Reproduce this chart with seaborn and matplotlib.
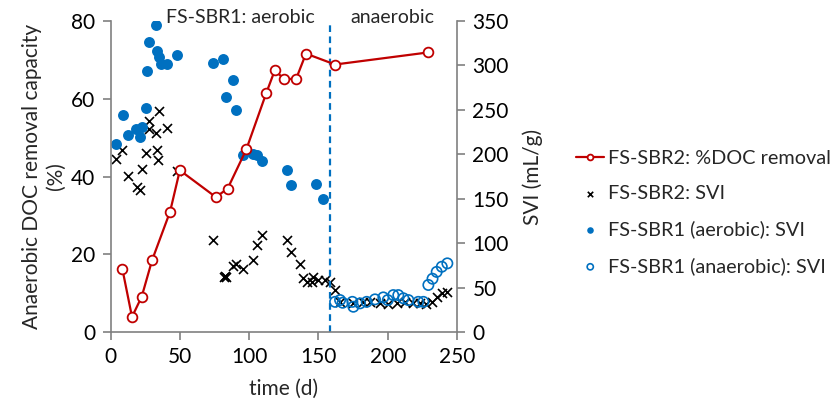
import matplotlib
matplotlib.use("Agg")
import matplotlib.pyplot as plt
import seaborn as sns

# ---- data ----
doc_days = [8.5, 15.5, 22.5, 30, 43, 50, 76, 84.5, 98, 112.5, 118.5, 125.5, 134, 141, 162, 229]
doc_removal = [16.3, 3.9, 9.1, 18.5, 31.0, 41.6, 34.7, 36.9, 47.0, 61.6, 67.3, 65.0, 65.2, 71.6, 68.8, 71.9]

sbr2_days = [3.9, 8.3, 12.9, 18.9, 21.3, 22.5, 25.6, 27.5, 28, 32.8, 33.3, 34.5, 35.2, 40.5, 47.8,
             74.2, 81.9, 83.3, 82.5, 88.6, 90.5, 95.8, 102.6, 105.5, 109, 127, 130, 136.7, 139,
             141.5, 145, 146.3, 150, 154.8, 158.4, 162,
             165.6, 175.2, 182.4, 187, 194.4, 200, 206.5, 212.5, 218, 223.3, 227.6, 231.7, 235.3, 239, 242.5]
sbr2_svi = [195, 205, 176, 163, 160, 184, 202, 238, 228, 224, 205, 194, 249, 230, 181,
            104, 62, 62, 63, 74, 77, 70.5, 81, 98, 109, 104, 90, 76.5, 60.4,
            56.6, 56.6, 62, 59, 58.5, 56.6, 47,
            34, 33, 34, 34, 33, 32, 33, 34, 33, 33, 32, 34, 39, 43.5, 45.3]

sbr1_aer_days = [3.9, 8.8, 12.9, 18.2, 21.3, 22.5, 25.6, 26.6, 27.5, 32.8, 33.3, 34.8, 36.2, 40.5, 47.8,
                 74.2, 81.4, 83.3, 88.2, 90.3, 95.8, 102.6, 105.5, 109, 127.6, 130.2, 148.3, 153]
sbr1_aer_svi = [211.5, 244, 221.6, 228, 219.7, 231, 252, 293.6, 326, 345.7, 316, 310, 301.5, 301.5, 311.6,
                303, 306.7, 264, 284, 249.7, 199, 200, 199, 192.7, 182, 165, 167, 150]

sbr1_ana_days = [162, 165.6, 167.5, 174.5, 175.2, 180, 184.8, 190.8, 196.8, 200, 204, 207.6, 211.3,
                 214.9, 222, 225.7, 229.3, 232.3, 235.3, 239, 243]
sbr1_ana_svi = [34, 36, 33, 34, 28.5, 32.3, 34, 36.8, 39, 36, 41.6, 41.6, 38,
                36, 34, 34, 53, 60, 67.7, 73.5, 77.3]

x_ticks = [0, 50, 100, 150, 200, 250]
y_ticks = [0, 20, 40, 60, 80]
y2_ticks = [0, 50, 100, 150, 200, 250, 300, 350]
phase_switch = 158

RED = "#C00000"
BLUE = "#0070C0"
GRAY = "#808080"

sns.set_style("white")
plt.rcParams["font.family"] = ["Lato", "DejaVu Sans"]
FS = 15

fig = plt.figure(figsize=(8.31, 4.03), dpi=100)
ax = fig.add_axes([0.133, 0.176, 0.417, 0.772])
ax2 = ax.twinx()

sns.scatterplot(x=sbr2_days, y=sbr2_svi, ax=ax2, marker="x", color="black", s=42,
                linewidth=1.2, label="FS-SBR2: SVI", zorder=3)
sns.scatterplot(x=sbr1_aer_days, y=sbr1_aer_svi, ax=ax2, marker="o", color=BLUE, s=62,
                linewidth=0, label="FS-SBR1 (aerobic): SVI", zorder=3)
sns.scatterplot(x=sbr1_ana_days, y=sbr1_ana_svi, ax=ax2, marker="o", facecolor="none",
                edgecolor=BLUE, s=55, linewidth=1.2, label="FS-SBR1 (anaerobic): SVI", zorder=3)

sns.lineplot(x=doc_days, y=doc_removal, ax=ax, color=RED, lw=1.6, marker="o",
             markerfacecolor="white", markeredgecolor=RED, markeredgewidth=1.3,
             markersize=7, label="FS-SBR2: %DOC removal", zorder=4)
ax.axvline(phase_switch, color=BLUE, ls=(0, (3, 2)), lw=1.6, zorder=2)

ax.set_zorder(ax2.get_zorder() + 1)
ax.patch.set_visible(False)

ax.set_xlim(0, 250)
ax.set_ylim(0, 80)
ax2.set_ylim(0, 350)
ax.set_xticks(x_ticks)
ax.set_yticks(y_ticks)
ax2.set_yticks(y2_ticks)

for a in (ax, ax2):
    for s in a.spines.values():
        s.set_color(GRAY)
        s.set_linewidth(1.2)
    a.spines["top"].set_visible(False)
    a.tick_params(colors=GRAY, labelcolor="black", labelsize=FS, length=6, width=1.2,
                  direction="out", pad=5)
ax.spines["right"].set_visible(False)
ax2.spines["left"].set_visible(False)
ax2.spines["bottom"].set_visible(False)
ax.tick_params(axis="y", left=True)
ax.tick_params(axis="x", bottom=True)
ax2.tick_params(axis="y", right=True)

ax.set_xlabel("time (d)", fontsize=FS, labelpad=8)
ax.set_ylabel("Anaerobic DOC removal capacity\n(%)", fontsize=FS, labelpad=4, linespacing=1.2)
ax2.set_ylabel("SVI (mL/g)", fontsize=FS, labelpad=10)

ax.text(93.5, 81, "FS-SBR1: aerobic", ha="center", va="center", fontsize=14, clip_on=False)
ax.text(203, 81, "anaerobic", ha="center", va="center", fontsize=14, clip_on=False)

h1, l1 = ax.get_legend_handles_labels()
h2, l2 = ax2.get_legend_handles_labels()
if ax.get_legend():
    ax.get_legend().remove()
if ax2.get_legend():
    ax2.get_legend().remove()
fig.legend(h1 + h2, l1 + l2, loc="upper left", bbox_to_anchor=(0.684, 0.648),
           frameon=False, fontsize=14.3, markerscale=0.6, handlelength=1.4,
           handletextpad=0.2, labelspacing=0.93, borderaxespad=0)

fig.savefig("out.png", dpi=100)
